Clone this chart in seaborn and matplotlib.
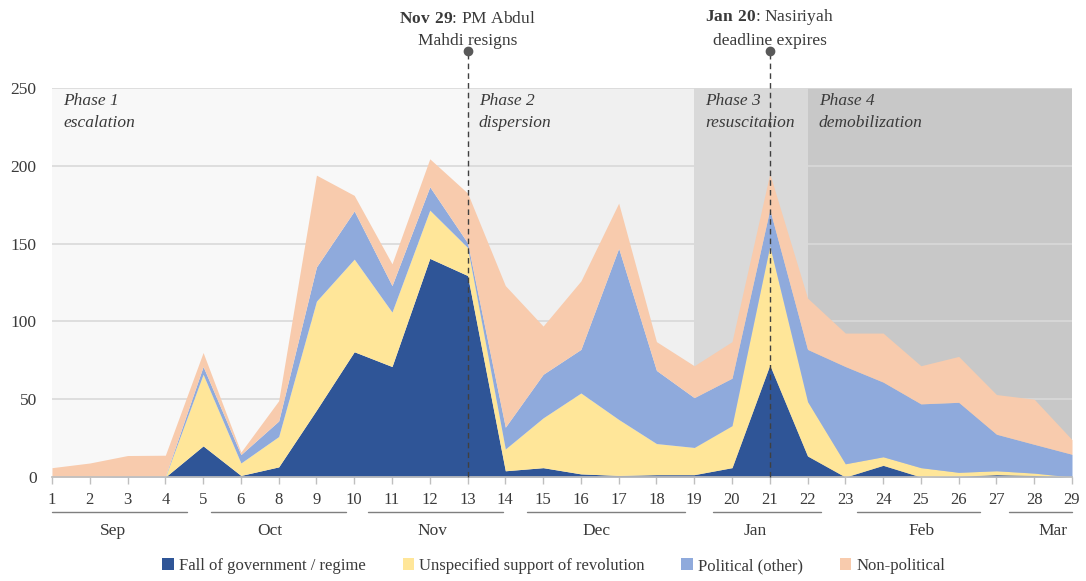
import numpy as np
import pandas as pd
import matplotlib
matplotlib.use("Agg")
import matplotlib.pyplot as plt
import matplotlib.transforms as mtransforms
from matplotlib.patches import Patch
from matplotlib.lines import Line2D
import seaborn as sns

# ---------------- data ----------------
periods = ["1", "2", "3", "4", "5", "6", "8", "9", "10", "11", "12", "13", "14", "15",
           "16", "17", "18", "19", "20", "21", "22", "23", "24", "25", "26", "27", "28", "29"]
fall_of_government = [0, 0, 0, 0, 20, 1, 6.5, 43, 80.5, 71, 140.5, 129.5, 4, 6,
                      2, 1, 1.5, 1.5, 6, 72, 13.5, 0, 7.5, 0, 0.5, 1.5, 1, 0]
unspecified_support = [0, 0, 0, 0, 46, 8, 19.5, 70, 59.5, 35, 31, 18, 14, 32,
                       52, 36, 20, 17.5, 27, 76.5, 35, 8.5, 5.5, 6, 2.5, 2.5, 1.5, 0]
political_other = [0, 0, 0.5, 0.5, 5, 5.4, 10, 22, 31, 17, 15, 3, 14, 28,
                   28, 110, 47, 32, 30.5, 23.5, 33.5, 62.5, 48, 41, 45, 23.5, 18.5, 14.6]
non_political = [6, 9, 13.3, 13.5, 9, 1.6, 13, 59, 10, 14, 18, 32, 91, 31,
                 44, 29, 18.5, 20.5, 23.5, 23, 33, 21.5, 31.5, 24.5, 29.5, 25.5, 29, 9.4]
series_names = ["Fall of government / regime", "Unspecified support of revolution",
                "Political (other)", "Non-political"]
months = ["Sep", "Oct", "Nov", "Dec", "Jan", "Feb", "Mar"]
phase_titles = ["Phase 1", "Phase 2", "Phase 3", "Phase 4"]
phase_names = ["escalation", "dispersion", "resuscitation", "demobilization"]
phase_start_labels = ["1", "13", "19", "22"]
event_labels = ["21", "13"]
event_dates = ["Jan 20", "Nov 29"]
event_texts = ["Nasiriyah\ndeadline expires", "PM Abdul\nMahdi resigns"]

# ---------------- style ----------------
series_colors = ["#2f5597", "#ffe699", "#8faadc", "#f8cbad"]
phase_colors = ["#f8f8f8", "#f0f0f0", "#d9d9d9", "#c8c8c8"]
text_color = "#3a3a3a"
month_spans = [(0.0, 3.57), (4.2, 7.77), (8.36, 11.95), (12.57, 16.76),
               (17.5, 20.35), (21.3, 24.56), (25.33, 27.0)]
month_centers = [1.61, 5.76, 10.08, 14.4, 18.61, 23.02, 26.5]

sns.set_theme(style="white")
plt.rcParams["font.family"] = ["Liberation Serif", "DejaVu Serif"]
plt.rcParams["mathtext.fontset"] = "custom"
plt.rcParams["mathtext.rm"] = "Liberation Serif"
plt.rcParams["mathtext.bf"] = "Liberation Serif:bold"
plt.rcParams["text.color"] = text_color

df = pd.DataFrame({"period": periods,
                   series_names[0]: fall_of_government,
                   series_names[1]: unspecified_support,
                   series_names[2]: political_other,
                   series_names[3]: non_political})
x = np.arange(len(df))

fig = plt.figure(figsize=(10.86, 5.81), dpi=100)
ax = fig.add_axes([52 / 1086, 1 - 477 / 581, 1020 / 1086, 389 / 581])

# phase bands
bounds = [periods.index(p) for p in phase_start_labels] + [len(periods) - 1]
for i in range(len(phase_titles)):
    ax.axvspan(bounds[i], bounds[i + 1], color=phase_colors[i], zorder=0.2, lw=0)
    ax.text(bounds[i] + 0.3, 247, f"{phase_titles[i]}\n{phase_names[i]}",
            style="italic", fontsize=12.5, va="top", ha="left", linespacing=1.5,
            color=text_color, zorder=1)

ax.set_axisbelow(True)
ax.yaxis.grid(True, color="#d9d9d9", lw=1.2, zorder=0.5)

ax.stackplot(x, [df[s] for s in series_names], colors=series_colors,
             linewidth=0, zorder=2)

# events
for lab, date, txt in zip(event_labels, event_dates, event_texts):
    xi = periods.index(lab)
    ax.plot([xi, xi], [0, 274], ls=(0, (4, 3)), color="#404040", lw=1,
            clip_on=False, zorder=4)
    ax.plot([xi], [274], "o", ms=6, color="#595959", clip_on=False, zorder=5)
    first, second = txt.split("\n")
    date_tex = date.replace(" ", r"\ ")
    ax.text(xi, 275, rf"$\mathbf{{{date_tex}}}$: {first}" + "\n" + second,
            ha="center", va="bottom", fontsize=12.5, linespacing=1.5,
            color=text_color, clip_on=False)

ax.set_xlim(0, len(periods) - 1)
ax.set_ylim(0, 250)
ax.set_yticks(np.arange(0, 251, 50))
ax.set_xticks(x)
ax.set_xticklabels(periods)
for s in ["left", "top", "right"]:
    ax.spines[s].set_visible(False)
ax.spines["bottom"].set_color("#bfbfbf")
ax.spines["bottom"].set_zorder(3)
ax.tick_params(axis="x", bottom=True, length=5, width=1, color="#bfbfbf",
               labelsize=12, labelcolor=text_color, pad=6)
ax.tick_params(axis="y", left=False, length=0, labelsize=12.5,
               labelcolor=text_color, pad=11)

# month groups
trans = mtransforms.blended_transform_factory(ax.transData, fig.transFigure)
for m, (a, b), c in zip(months, month_spans, month_centers):
    fig.add_artist(Line2D([a, b], [1 - 512 / 581] * 2, transform=trans,
                          color="#7f7f7f", lw=1))
    fig.text(c, 1 - 531 / 581, m, transform=trans, ha="center", va="center",
             fontsize=12.5, color=text_color)

# legend
handles = [Patch(facecolor=c, edgecolor="none") for c in series_colors]
fig.legend(handles, series_names, loc="center", bbox_to_anchor=(0.51, 1 - 566 / 581),
           ncol=4, frameon=False, fontsize=12, handlelength=0.7, handleheight=0.7,
           handletextpad=0.3, columnspacing=2.2)

fig.savefig("out.png", dpi=100)
